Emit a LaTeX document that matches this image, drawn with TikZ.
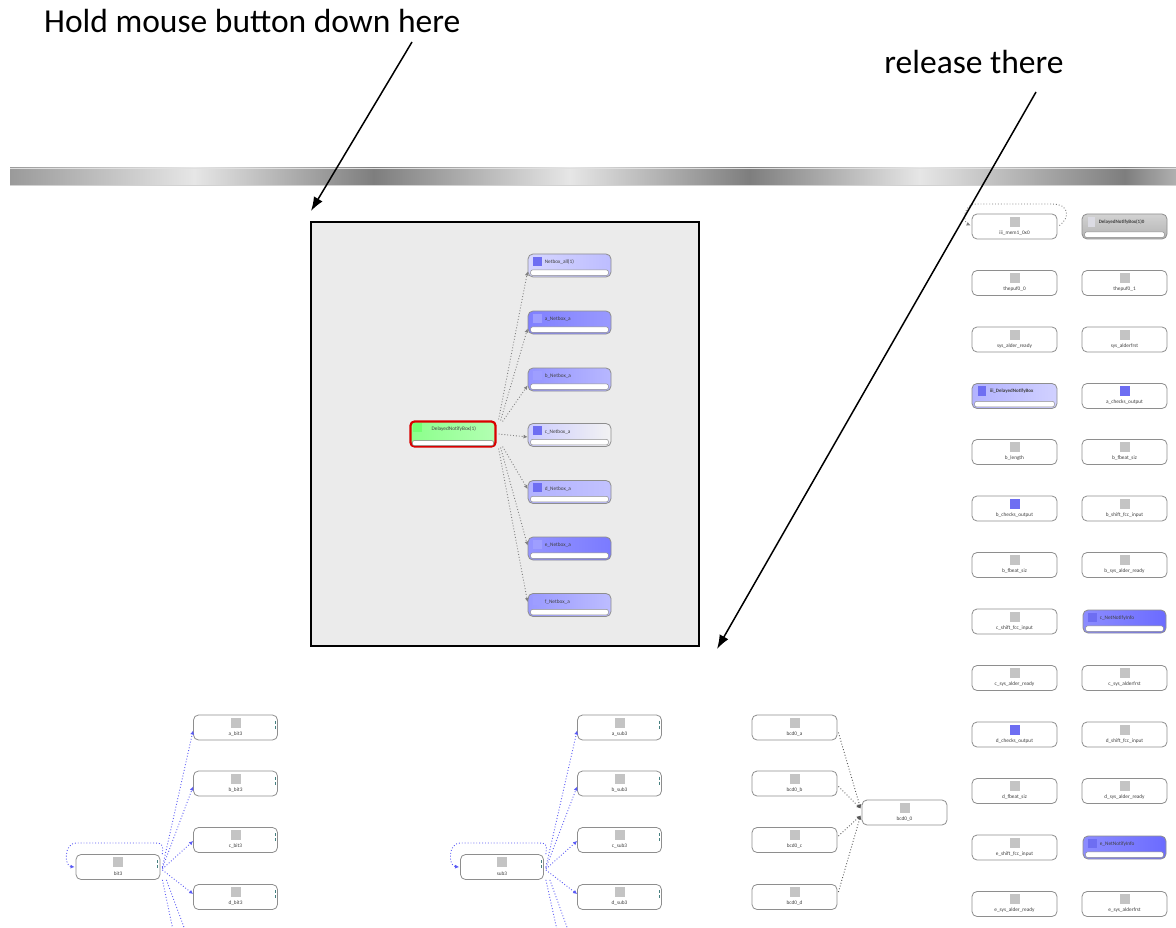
\documentclass[tikz,border=0pt]{standalone}
\usepackage{fontspec}
\setmainfont{Carlito}
\usetikzlibrary{arrows.meta,calc}
\definecolor{barA}{HTML}{9A9A9A}
\definecolor{barL}{HTML}{E6E6E6}
\definecolor{barD}{HTML}{7E7E7E}
\definecolor{barM}{HTML}{B0B0B0}
\definecolor{panelgray}{HTML}{EBEBEB}
\definecolor{iconblue}{HTML}{6E6EF2}
\definecolor{icongray}{HTML}{C4C4C4}
\definecolor{linkblue}{HTML}{5A5AF5}
\definecolor{boxline}{HTML}{8E8E8E}
\definecolor{tinyink}{HTML}{404040}
\pgfdeclarehorizontalshading{metalbar}{100bp}{color(0bp)=(barA); color(25bp)=(barA); color(32.9bp)=(barL); color(40.6bp)=(barD); color(49bp)=(barL); color(56.7bp)=(barD); color(64bp)=(barL); color(72.8bp)=(barD); color(75bp)=(barM); color(100bp)=(barM)}
\newcommand{\plainbx}[6]{% name, x, y, label, icon colour, width
  \node[plainbox, minimum width=#6] (#1) at (#2,#3) {};
  \fill[#5] ($(#1.north)+(-5,3)$) rectangle ($(#1.north)+(5,13)$);
  \node[tinytext] (#1-l) at ($(#1.south)+(0,-6.5)$) {#4};
}
\newcommand{\fancybx}[7]{% name, x, y, label, left colour, right colour, icon colour
  \node[fancybox, left color=#5, right color=#6] (#1) at (#2,#3) {};
  \fill[#7] ($(#1.north west)+(5,3)$) rectangle ++(9,9);
  \node[tinytext, anchor=west] (#1-l) at ($(#1.north west)+(17,8.5)$) {#4};
  \draw[boxline, fill=white, rounded corners=2pt, line width=0.5pt] ($(#1.south west)+(3,-2)$) rectangle ($(#1.south east)+(-3,-7.5)$);
}
\newcommand{\tinymark}[1]{%
  \draw[teal!45!gray, line width=0.6pt] ($(#1.east)+(-3,-7)$) -- ++(0,3) ($(#1.east)+(-3,-2)$) -- ++(0,3);
}
\begin{document}
\begin{tikzpicture}[x=1pt,y=-1pt,
  plainbox/.style={draw=boxline, line width=0.8pt, fill=white, rounded corners=5pt, minimum width=85, minimum height=25, inner sep=0pt},
  fancybox/.style={draw=boxline, line width=0.8pt, rounded corners=5pt, minimum width=83, minimum height=23, inner sep=0pt},
  tinytext/.style={font=\fontsize{5.3}{6}\selectfont, text=tinyink, inner sep=0pt},
  callout/.style={font=\fontsize{33.5}{38}\selectfont, text=black, inner sep=0pt},
  callarrow/.style={line width=1.5pt, -{Latex[length=14pt,width=10pt]}},
  graydot/.style={draw=gray, dotted, line width=0.9pt},
  bluedot/.style={draw=linkblue, dotted, line width=0.9pt},
  blackdot/.style={draw=gray!70!black, dotted, line width=0.9pt},
  tipb/.style={-{Latex[length=4pt,width=4pt]}},
]
\useasboundingbox (0,0) rectangle (1176,928);
\fill[white] (0,0) rectangle (1176,928);

% ---- callout texts
\node[callout, anchor=west] (hold) at (44,21) {Hold mouse button down here};
\node[callout] (release) at (974,62) {release there};

% ---- metallic bar
\shade[shading=metalbar] (10,168) rectangle (1176,186);
\draw[gray!25, line width=0.8pt] (10,168.4) -- (1176,168.4);
\draw[gray!35, line width=0.8pt] (10,185.6) -- (1176,185.6);

% ---- grey panel
\node[draw=black, line width=1.4pt, fill=panelgray, minimum width=388, minimum height=424, inner sep=0pt] (panel) at (505,434) {};

% green source node
\node[draw=red!85!black, line width=2.2pt, rounded corners=4pt, left color=green!45!white, right color=green!30!white, minimum width=85, minimum height=25, inner sep=0pt] (g) at (453,434) {};
\fill[green!55!white] ($(g.north west)+(4,3)$) rectangle ++(9,9);
\node[tinytext, anchor=west] (g-l) at ($(g.north west)+(22,8.5)$) {DelayedNotifyBox(1)};
\draw[gray, fill=white, rounded corners=2pt, line width=0.5pt] ($(g.south west)+(3,-2)$) rectangle ($(g.south east)+(-3,-7)$);

\fancybx{p1}{569.5}{265.5}{Netbox\_all(1)}{blue!16!white}{blue!26!white}{iconblue}
\fancybx{p2}{569.5}{322.5}{a\_Netbox\_a}{blue!50!white}{blue!40!white}{blue!38!white}
\fancybx{p3}{569.5}{379.5}{b\_Netbox\_a}{blue!42!white}{blue!28!white}{blue!38!white}
\fancybx{p4}{569.5}{435}{c\_Netbox\_a}{blue!20!white}{gray!10!white}{iconblue}
\fancybx{p5}{569.5}{492}{d\_Netbox\_a}{blue!30!white}{blue!24!white}{iconblue}
\fancybx{p6}{569.5}{548.5}{e\_Netbox\_a}{blue!42!white}{blue!52!white}{blue!38!white}
\fancybx{p7}{569.5}{605}{f\_Netbox\_a}{blue!40!white}{blue!26!white}{blue!38!white}

\draw[graydot, tipb] ($(g.north east)+(2,-1)$) -- ($(p1.west)+(0,6)$);
\draw[graydot, tipb] ($(g.north east)+(4,0)$) -- ($(p2.west)+(0,6)$);
\draw[graydot, tipb] ($(g.north east)+(6,1)$) -- ($(p3.west)+(0,6)$);
\draw[graydot, tipb] ($(g.east)+(2,0)$) -- ($(p4.west)+(0,2)$);
\draw[graydot, tipb] ($(g.south east)+(6,-1)$) -- ($(p5.west)+(0,-3)$);
\draw[graydot, tipb] ($(g.south east)+(4,0)$) -- ($(p6.west)+(0,-3)$);
\draw[graydot, tipb] ($(g.south east)+(2,1)$) -- ($(p7.west)+(0,-3)$);

% ---- right-hand grid
\plainbx{ra1}{1014.5}{226.5}{iii\_mem1\_0x0}{icongray}{85}
\node[fancybox, minimum width=85, minimum height=25, top color=gray!35, bottom color=gray!60] (rb1) at (1124.5,226.5) {};
\fill[blue!12!gray!25] ($(rb1.north west)+(6,3)$) rectangle ++(7,10);
\node[tinytext, anchor=west, font=\bfseries\fontsize{5}{6}\selectfont] (rb1-l) at ($(rb1.north west)+(17,8.5)$) {DelayedNotifyBox(1)0};
\draw[boxline, fill=white, rounded corners=2pt, line width=0.5pt] ($(rb1.south west)+(3,-2)$) rectangle ($(rb1.south east)+(-3,-7.5)$);

\plainbx{ra2}{1014.5}{283}{thepuf0\_0}{icongray}{85}
\plainbx{rb2}{1124.5}{283}{thepuf0\_1}{icongray}{85}
\plainbx{ra3}{1014.5}{339.5}{sys\_alder\_ready}{icongray}{85}
\plainbx{rb3}{1124.5}{339.5}{sys\_alderfrst}{icongray}{85}
\node[fancybox, minimum width=85, minimum height=25, left color=blue!30!white, right color=blue!18!white] (ra4) at (1014.5,396) {};
\fill[iconblue] ($(ra4.north west)+(6,3)$) rectangle ++(8,10);
\node[tinytext, anchor=west, font=\bfseries\fontsize{5}{6}\selectfont] (ra4-l) at ($(ra4.north west)+(18,8.5)$) {iii\_DelayedNotifyBox};
\draw[boxline, fill=white, rounded corners=2pt, line width=0.5pt] ($(ra4.south west)+(3,-2)$) rectangle ($(ra4.south east)+(-3,-7.5)$);
\plainbx{rb4}{1124.5}{396}{a\_checks\_output}{iconblue}{85}
\plainbx{ra5}{1014.5}{452}{b\_length}{icongray}{85}
\plainbx{rb5}{1124.5}{452}{b\_fbeat\_siz}{icongray}{85}
\plainbx{ra6}{1014.5}{508.5}{b\_checks\_output}{iconblue}{85}
\plainbx{rb6}{1124.5}{508.5}{b\_shift\_fcc\_input}{icongray}{85}
\plainbx{ra7}{1014.5}{565}{b\_fbeat\_siz}{icongray}{85}
\plainbx{rb7}{1124.5}{565}{b\_sys\_alder\_ready}{icongray}{85}
\plainbx{ra8}{1014.5}{621.5}{c\_shift\_fcc\_input}{icongray}{85}
\fancybx{rb8}{1124.5}{621.5}{c\_NetNotifyInfo}{blue!45!white}{blue!58!white}{iconblue}
\plainbx{ra9}{1014.5}{678}{c\_sys\_alder\_ready}{icongray}{85}
\plainbx{rb9}{1124.5}{678}{c\_sys\_alderfrst}{icongray}{85}
\plainbx{ra10}{1014.5}{734.5}{d\_checks\_output}{iconblue}{85}
\plainbx{rb10}{1124.5}{734.5}{d\_shift\_fcc\_input}{icongray}{85}
\plainbx{ra11}{1014.5}{791}{d\_fbeat\_siz}{icongray}{85}
\plainbx{rb11}{1124.5}{791}{d\_sys\_alder\_ready}{icongray}{85}
\plainbx{ra12}{1014.5}{847.5}{e\_shift\_fcc\_input}{icongray}{85}
\fancybx{rb12}{1124.5}{847.5}{e\_NetNotifyInfo}{blue!45!white}{blue!58!white}{iconblue}
\plainbx{ra13}{1014.5}{904}{e\_sys\_alder\_ready}{icongray}{85}
\plainbx{rb13}{1124.5}{904}{e\_sys\_alderfrst}{icongray}{85}

\draw[graydot, tipb] ($(ra1.east)+(2,-1)$) .. controls (1070,218) and (1070,204) .. (1052,204) -- (976,204) .. controls (963,204) and (963,222) .. ($(ra1.west)+(-1,-1)$);

% ---- cluster 1 (blue)
\plainbx{c1m}{118}{867}{bit3}{icongray}{84}
\plainbx{c1a}{235.5}{727.5}{a\_bit3}{icongray}{84}
\plainbx{c1b}{235.5}{783.5}{b\_bit3}{icongray}{84}
\plainbx{c1c}{235.5}{840}{c\_bit3}{icongray}{84}
\plainbx{c1d}{235.5}{897}{d\_bit3}{icongray}{84}
\foreach \n in {c1m,c1a,c1b,c1c,c1d} {\tinymark{\n}}
\draw[bluedot, tipb] ($(c1m.east)+(2,0)$) -- ($(c1a.west)+(0,3)$);
\draw[bluedot, tipb] ($(c1m.east)+(2,1)$) -- ($(c1b.west)+(0,3)$);
\draw[bluedot, tipb] ($(c1m.east)+(2,2)$) -- ($(c1c.west)+(0,1)$);
\draw[bluedot, tipb] ($(c1m.east)+(2,3)$) -- ($(c1d.west)+(0,-3)$);
\coordinate (c1x) at (173,930);
\coordinate (c1y) at (185,930);
\draw[bluedot] ($(c1m.south east)+(2,0)$) -- (c1x);
\draw[bluedot] ($(c1m.south east)+(6,0)$) -- (c1y);
\draw[bluedot, tipb] ($(c1m.north east)+(2,0)$) .. controls (163,843) .. (150,843) -- (76,843) .. controls (64,843) and (64,866) .. ($(c1m.west)+(-1,0)$);

% ---- cluster 2 (blue)
\plainbx{c2m}{502}{867}{sub3}{icongray}{83}
\plainbx{c2a}{619.5}{727.5}{a\_sub3}{icongray}{84}
\plainbx{c2b}{619.5}{783.5}{b\_sub3}{icongray}{84}
\plainbx{c2c}{619.5}{840}{c\_sub3}{icongray}{84}
\plainbx{c2d}{619.5}{897}{d\_sub3}{icongray}{84}
\foreach \n in {c2m,c2a,c2b,c2c,c2d} {\tinymark{\n}}
\draw[bluedot, tipb] ($(c2m.east)+(2,0)$) -- ($(c2a.west)+(0,3)$);
\draw[bluedot, tipb] ($(c2m.east)+(2,1)$) -- ($(c2b.west)+(0,3)$);
\draw[bluedot, tipb] ($(c2m.east)+(2,2)$) -- ($(c2c.west)+(0,1)$);
\draw[bluedot, tipb] ($(c2m.east)+(2,3)$) -- ($(c2d.west)+(0,-3)$);
\coordinate (c2x) at (557,930);
\coordinate (c2y) at (568,930);
\draw[bluedot] ($(c2m.south east)+(2,0)$) -- (c2x);
\draw[bluedot] ($(c2m.south east)+(6,0)$) -- (c2y);
\draw[bluedot, tipb] ($(c2m.north east)+(2,0)$) .. controls (547,843) .. (535,843) -- (460,843) .. controls (448,843) and (448,866) .. ($(c2m.west)+(-1,0)$);

% ---- cluster 3 (black)
\plainbx{c3a}{794.5}{727.5}{bcd0\_a}{icongray}{85}
\plainbx{c3b}{794.5}{783.5}{bcd0\_b}{icongray}{85}
\plainbx{c3c}{794.5}{840}{bcd0\_c}{icongray}{85}
\plainbx{c3d}{794.5}{897}{bcd0\_d}{icongray}{85}
\plainbx{c3t}{904.5}{812.5}{bcd0\_0}{icongray}{85}
\draw[blackdot, tipb] ($(c3a.east)+(1,5)$) -- ($(c3t.west)+(-1,-4)$);
\draw[blackdot, tipb] ($(c3b.east)+(1,3)$) -- ($(c3t.west)+(-1,-4)$);
\draw[blackdot, tipb] ($(c3c.east)+(1,-4)$) -- ($(c3t.west)+(-1,3)$);
\draw[blackdot, tipb] ($(c3d.east)+(1,-5)$) -- ($(c3t.west)+(-1,3)$);

% ---- callout arrows
\coordinate (a1s) at (412,42);
\coordinate (a1e) at (311,211);
\coordinate (a2s) at (1036,92);
\coordinate (a2e) at (717,649);
\draw[callarrow] (a1s) -- (a1e);
\draw[callarrow] (a2s) -- (a2e);
\end{tikzpicture}
\end{document}
